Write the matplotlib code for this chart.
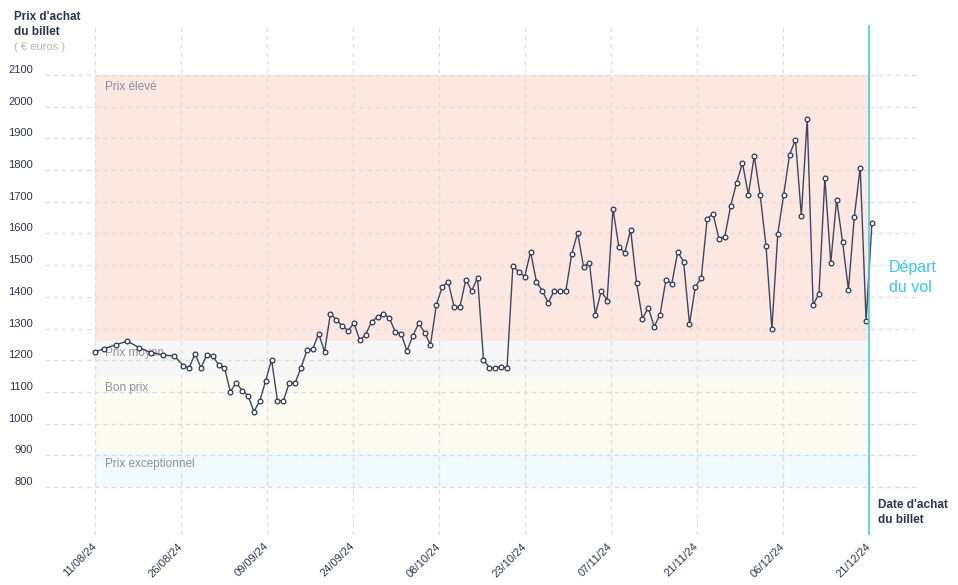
import matplotlib.pyplot as plt
import numpy as np

plt.rcParams['font.family'] = ['Liberation Sans', 'DejaVu Sans']

# days since 11/08/24 (sparse at the start, then one point per day)
days = [0, 1.5, 3.5, 5.5, 7.5, 9.5, 11.5, 13.5] + list(range(15, 133))
prices = [
    1227, 1236, 1249, 1260, 1240, 1224, 1217, 1213,
    1183, 1176, 1221, 1176, 1217, 1214, 1186, 1176, 1101, 1129,
    1104, 1088, 1038, 1072, 1135, 1202, 1072, 1072, 1128, 1128,
    1176, 1231, 1236, 1284, 1227, 1347, 1328, 1309, 1293, 1317,
    1263, 1281, 1322, 1336, 1347, 1334, 1290, 1284, 1230, 1277,
    1317, 1287, 1249, 1375, 1432, 1448, 1369, 1369, 1454, 1419,
    1460, 1202, 1176, 1176, 1180, 1176, 1498, 1479, 1464, 1542,
    1448, 1419, 1382, 1419, 1419, 1419, 1536, 1602, 1495, 1508,
    1344, 1419, 1388, 1678, 1558, 1539, 1612, 1445, 1331, 1366,
    1306, 1344, 1454, 1442, 1542, 1511, 1315, 1432, 1460, 1647,
    1662, 1584, 1590, 1688, 1760, 1823, 1722, 1845, 1722, 1561,
    1299, 1599, 1722, 1849, 1896, 1656, 1962, 1375, 1410, 1776,
    1508, 1707, 1574, 1423, 1653, 1808, 1325, 1634,
]

tick_labels = ["11/08/24", "26/08/24", "09/09/24", "24/09/24", "08/10/24",
               "23/10/24", "07/11/24", "21/11/24", "06/12/24", "21/12/24"]
departure_day = 131.5
tick_days = np.linspace(0, departure_day, len(tick_labels))
y_ticks = list(range(800, 2200, 100))

band_names = ["Prix élevé", "Prix moyen", "Bon prix", "Prix exceptionnel"]
band_low = [1260, 1150, 910, 800]
band_high = [2100, 1260, 1150, 910]
band_colors = ["#fde7e1", "#f7f7f8", "#fbfbf2", "#f1fafd"]

navy = "#2b3550"
blue = "#3cc6f0"

fig = plt.figure(figsize=(9.58, 5.85), dpi=100)
ax = fig.add_axes([45 / 958, 50 / 585, 875 / 958, 510 / 585])

for name, lo, hi, col in zip(band_names, band_low, band_high, band_colors):
    ax.fill_between([0, departure_day], lo, hi, color=col, lw=0, zorder=1)
    ax.annotate(name, (1.7, hi), xytext=(0, -8.5), textcoords="offset points",
                va="center", ha="left", fontsize=8.5, color="#8b909c", zorder=2)

ax.plot(days, prices, color="#3d4764", lw=1, marker="o", ms=3.4,
        mfc="white", mec="#2b3550", mew=0.9, zorder=4)

ax.axvline(departure_day, color=blue, lw=1.1, zorder=5)

ax.set_xlim(-8.49, 140.16)
ax.set_ylim(648.5, 2258)
ax.set_xticks(tick_days)
ax.set_xticklabels(tick_labels, rotation=45, ha="right", va="center",
                   rotation_mode="anchor", fontsize=8, color=navy)
ax.set_yticks(y_ticks)
ax.set_yticklabels([str(v) for v in y_ticks], fontsize=8, color=navy, va="bottom")
ax.tick_params(axis="x", length=0, pad=7)
ax.tick_params(axis="y", length=0, pad=8.5)
ax.grid(True, ls=(0, (3.6, 3)), color="#dedede", lw=0.9, zorder=1.5)
for s in ax.spines.values():
    s.set_visible(False)

fig.text(14 / 958, 1 - 11 / 585, "Prix d'achat\ndu billet", ha="left", va="top",
         fontsize=8.5, fontweight="bold", color=navy, linespacing=1.35)
fig.text(14 / 958, 1 - 47 / 585, "( € euros )", ha="left", va="center",
         fontsize=8, color="#b5b5b5")
fig.text(878 / 958, 1 - 499 / 585, "Date d'achat\ndu billet", ha="left", va="top",
         fontsize=8.5, fontweight="bold", color=navy, linespacing=1.35)
fig.text(889 / 958, 1 - 260 / 585, "Départ\ndu vol", ha="left", va="top",
         fontsize=11.5, color=blue, linespacing=1.45)

fig.savefig("out.png", dpi=100)
